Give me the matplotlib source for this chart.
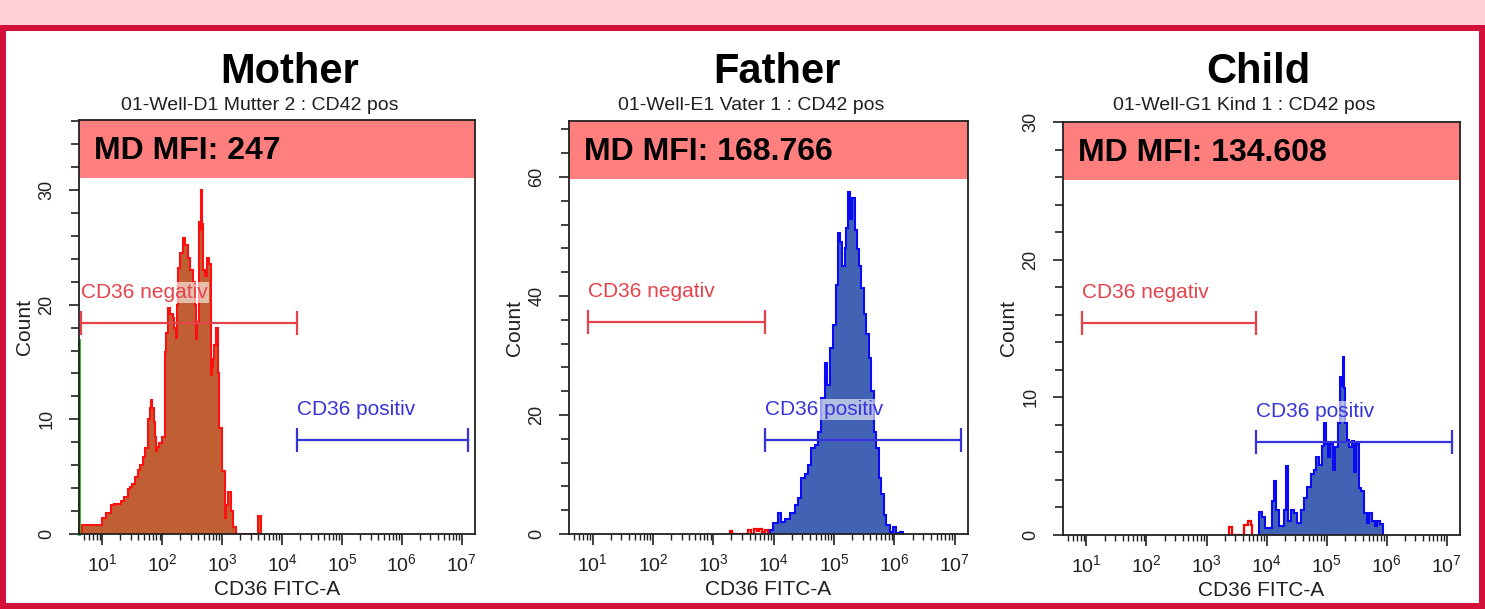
import matplotlib
matplotlib.use('Agg')
import matplotlib.pyplot as plt
from matplotlib.patches import Rectangle
from matplotlib.ticker import FixedLocator, LogLocator, MultipleLocator, NullFormatter
import numpy as np

plt.rcParams['font.family'] = ['Liberation Sans', 'DejaVu Sans']
plt.rcParams['mathtext.fontset'] = 'custom'
plt.rcParams['mathtext.rm'] = 'Liberation Sans'
plt.rcParams['mathtext.it'] = 'Liberation Sans:italic'
plt.rcParams['mathtext.bf'] = 'Liberation Sans:bold'

# ---------------- data ----------------
PANEL_TITLES = ["Mother", "Father", "Child"]
PANEL_SUBTITLES = ["01-Well-D1 Mutter 2 : CD42 pos",
                   "01-Well-E1 Vater 1 : CD42 pos",
                   "01-Well-G1 Kind 1 : CD42 pos"]
MFI_LABELS = ["MD MFI: 247", "MD MFI: 168.766", "MD MFI: 134.608"]
X_LABEL = "CD36 FITC-A"
Y_LABEL = "Count"
X_TICK_EXP = [1, 2, 3, 4, 5, 6, 7]

# Mother histogram (log10 bin edges, counts)
M_EDGES = [0.667, 1.00, 1.06, 1.14, 1.20, 1.31, 1.36, 1.42, 1.46, 1.50, 1.55, 1.59,
           1.63, 1.67, 1.72, 1.76, 1.79, 1.81, 1.835, 1.856, 1.875, 1.895, 1.92, 1.95,
           2.00, 2.045, 2.07, 2.09, 2.13, 2.175, 2.20, 2.23, 2.25, 2.27, 2.30, 2.34,
           2.38, 2.43, 2.47, 2.51, 2.54, 2.565, 2.585, 2.605, 2.625, 2.64, 2.66, 2.68,
           2.72, 2.75, 2.78, 2.805, 2.825, 2.845, 2.87, 2.90, 2.93, 2.955, 2.99, 3.04,
           3.07, 3.10, 3.14, 3.18, 3.235, 3.60, 3.645]
M_COUNTS = [0.8, 1.4, 1.8, 2.5, 2.6, 2.9, 3.2, 3.9, 4.1, 4.4, 5.0, 5.6, 6.0, 6.7, 7.5,
            10.0, 11.0, 11.7, 11.0, 9.8, 8.5, 7.2, 7.6, 7.9, 8.5, 15.9, 17.5, 19.7, 19.2,
            18.8, 18.0, 17.1, 20.0, 23.2, 24.5, 25.8, 25.2, 24.1, 23.0, 22.0, 20.0, 17.0,
            18.5, 27.2, 26.5, 30.0, 27.0, 23.0, 22.5, 24.1, 23.5, 13.9, 14.5, 15.3, 16.5,
            18.0, 14.0, 9.2, 5.5, 1.4, 2.5, 3.7, 2.0, 0.6, 0.0, 1.6]
M_AXIS_EVENTS = 16.9   # green events piled on the left axis

# Father histogram
F_EDGES = [3.933, 3.988, 4.071, 4.127, 4.182, 4.265, 4.348, 4.403, 4.459, 4.514, 4.569,
           4.625, 4.680, 4.734, 4.790, 4.845, 4.884, 4.940, 4.983, 5.028, 5.066, 5.094,
           5.139, 5.177, 5.205, 5.238, 5.271, 5.305, 5.343, 5.381, 5.415, 5.454, 5.492,
           5.536, 5.580, 5.620, 5.658, 5.703, 5.746, 5.786, 5.824, 5.869, 5.923, 5.978,
           6.034, 6.089, 6.144]
F_COUNTS = [0.7, 1.9, 3.5, 2.0, 2.6, 3.5, 4.9, 6.0, 9.4, 10.0, 11.6, 14.4, 15.0, 17.1,
            22.8, 28.7, 25.0, 31.2, 35.1, 41.8, 50.6, 49.0, 45.0, 48.0, 51.4, 57.5, 53.0,
            56.5, 51.0, 47.9, 45.0, 41.3, 37.0, 33.6, 29.6, 24.0, 17.1, 14.4, 9.4, 6.7,
            3.2, 1.5, 0.4, 1.2, 0.2, 0.4]
F_RED_EDGES = [3.27, 3.31, 3.58, 3.63, 3.68, 3.72, 3.76, 3.80, 3.86, 3.90]
F_RED_COUNTS = [0.5, 0.0, 0.6, 0.0, 0.9, 0.5, 0.8, 0.4, 0.7]

# Child histogram
C_EDGES = [3.872, 3.928, 3.972, 4.011, 4.083, 4.122, 4.160, 4.205, 4.288, 4.326, 4.360,
           4.399, 4.454, 4.509, 4.565, 4.620, 4.675, 4.731, 4.786, 4.824, 4.869, 4.914,
           4.952, 4.990, 5.024, 5.063, 5.102, 5.146, 5.190, 5.223, 5.246, 5.268, 5.290,
           5.312, 5.346, 5.379, 5.423, 5.456, 5.490, 5.534, 5.578, 5.617, 5.672, 5.711,
           5.755, 5.799, 5.838, 5.894, 5.933]
C_COUNTS = [1.7, 1.3, 0.5, 0.5, 2.5, 3.9, 1.8, 0.65, 1.8, 5.0, 1.0, 1.8, 1.6, 0.9, 1.8,
            2.7, 3.5, 4.4, 4.7, 5.7, 5.1, 6.5, 8.1, 6.6, 5.7, 6.6, 4.7, 6.4, 8.1, 11.5,
            10.8, 12.9, 10.7, 8.1, 6.9, 6.4, 6.8, 4.6, 6.6, 3.4, 3.2, 1.6, 0.9, 1.6, 1.0,
            0.65, 1.0, 0.8]
C_RED_EDGES = [3.374, 3.429, 3.623, 3.695, 3.734, 3.761]
C_RED_COUNTS = [0.6, 0.0, 0.7, 1.0, 0.7]

# gates (log10 x-range, count level)
NEG_GATE_X = [(0.65, 4.25), (0.93, 3.86), (0.92, 3.82)]
NEG_GATE_Y = [18.4, 35.6, 15.4]
POS_GATE_X = [(4.25, 7.11), (3.86, 7.11), (3.82, 7.08)]
POS_GATE_Y = [8.2, 15.8, 6.75]
NEG_LABEL = "CD36 negativ"
POS_LABEL = "CD36 positiv"

Y_MAX = [36.1, 69.4, 30.0]
Y_MAJOR = [10, 20, 10]
Y_MINOR = [2, 4, 2]

# ---------------- styling ----------------
W, H = 1485, 609
PINK_BAND = '#FFCFD7'
BORDER_RED = '#D2103A'
MFI_BOX = '#FF7F7F'
FILL_COLORS = ['#BF5F33', '#4262B4', '#4262B4']
LINE_COLORS = ['#FF1010', '#0A0AF5', '#0A0AF5']
NEG_COLOR = '#E5434B'
POS_COLOR = '#3434DA'

fig = plt.figure(figsize=(W / 100, H / 100), dpi=100)
fig.patch.set_facecolor('white')

def fx(px):
    return px / W

def fy(py):
    return 1 - py / H

fig.add_artist(Rectangle((0, fy(25)), 1, 25 / H, transform=fig.transFigure,
                         facecolor=PINK_BAND, edgecolor='none', zorder=-3))
fig.add_artist(Rectangle((0, 0), 1, fy(25), transform=fig.transFigure,
                         facecolor=BORDER_RED, edgecolor='none', zorder=-3))
fig.add_artist(Rectangle((fx(6), 6 / H), 1 - 12 / W, fy(25) - 12 / H,
                         transform=fig.transFigure, facecolor='white',
                         edgecolor='none', zorder=-2))

AX_PIX = [(79, 120, 475, 534), (569, 121, 968, 534), (1063, 122, 1460, 535)]
TITLE_X = [290, 777, 1258]
SUB_X = [260, 751, 1244]

hists = [(M_EDGES, M_COUNTS, None, None),
         (F_EDGES, F_COUNTS, F_RED_EDGES, F_RED_COUNTS),
         (C_EDGES, C_COUNTS, C_RED_EDGES, C_RED_COUNTS)]

XMIN, XMAX = 10 ** 0.61, 10 ** 7.22

for i in range(3):
    l, t, r, b = AX_PIX[i]
    ax = fig.add_axes([fx(l), fy(b), (r - l) / W, (b - t) / H])
    ax.set_xscale('log')
    ax.set_xlim(XMIN, XMAX)
    ax.set_ylim(0, Y_MAX[i])

    edges, counts, redges, rcounts = hists[i]
    e = 10 ** np.array(edges)
    ax.stairs(counts, e, fill=True, color=FILL_COLORS[i], zorder=2)
    ax.stairs(counts, e, color=LINE_COLORS[i], lw=1.5, zorder=2.1)
    if redges is not None:
        ax.stairs(rcounts, 10 ** np.array(redges), color='#FF0000', lw=1.6, zorder=2.1)
    if i == 0:
        ax.plot([XMIN * 1.01, XMIN * 1.01], [0, M_AXIS_EVENTS], color='#19B419',
                lw=2, zorder=2.2, clip_on=False)

    # MFI box
    ax.add_patch(Rectangle((0, 0.859), 1, 0.141, transform=ax.transAxes,
                           facecolor=MFI_BOX, edgecolor='none', zorder=1.5))
    ax.text(0.037, 0.926, MFI_LABELS[i], transform=ax.transAxes, fontsize=23,
            fontweight='bold', va='center', ha='left', zorder=4)

    # gates
    for gx, gy, col, lab in [(NEG_GATE_X[i], NEG_GATE_Y[i], NEG_COLOR, NEG_LABEL),
                             (POS_GATE_X[i], POS_GATE_Y[i], POS_COLOR, POS_LABEL)]:
        xs = [10 ** gx[0], 10 ** gx[1]]
        ax.plot(xs, [gy, gy], color=col, lw=1.6, zorder=3)
        ax.plot(xs, [gy, gy], color=col, lw=0, marker='|', markersize=17,
                mew=1.6, zorder=3)
        ax.annotate(lab, xy=(xs[0], gy), xytext=(0, 18), textcoords='offset points',
                    color=col, fontsize=15, ha='left', va='baseline', zorder=3.5,
                    bbox=dict(facecolor='white', alpha=0.6, edgecolor='none', pad=0.5))

    # axes styling
    for sp in ax.spines.values():
        sp.set_linewidth(1.3)
        sp.set_color('#202020')
    ax.xaxis.set_major_locator(FixedLocator([10.0 ** k for k in X_TICK_EXP]))
    ax.set_xticklabels([r'$10^{%d}$' % k for k in X_TICK_EXP])
    ax.xaxis.set_minor_locator(LogLocator(base=10, subs=np.arange(2, 10), numticks=30))
    ax.xaxis.set_minor_formatter(NullFormatter())
    ax.yaxis.set_major_locator(MultipleLocator(Y_MAJOR[i]))
    ax.yaxis.set_minor_locator(MultipleLocator(Y_MINOR[i]))
    ax.tick_params(axis='x', which='major', direction='out', length=8, width=1.2,
                   labelsize=14, pad=6, colors='#202020')
    ax.tick_params(axis='x', which='minor', direction='out', length=4.5, width=1.0,
                   colors='#202020')
    ax.tick_params(axis='y', which='major', direction='out', length=7, width=1.2,
                   labelsize=13, pad=10, colors='#202020', labelrotation=90)
    ax.tick_params(axis='y', which='minor', direction='out', length=6, width=1.2,
                   colors='#202020')
    for lab in ax.get_yticklabels():
        lab.set_va('center')
    ax.set_xlabel(X_LABEL, fontsize=15, labelpad=3, color='#202020')
    ax.set_ylabel(Y_LABEL, fontsize=15, labelpad=3, color='#202020')

    fig.text(fx(TITLE_X[i]), fy(83), PANEL_TITLES[i], ha='center', va='baseline',
             fontsize=30, fontweight='bold')
    fig.text(fx(SUB_X[i]), fy(110), PANEL_SUBTITLES[i], ha='center', va='baseline',
             fontsize=14, color='#202020')

fig.savefig('out.png', dpi=100)
